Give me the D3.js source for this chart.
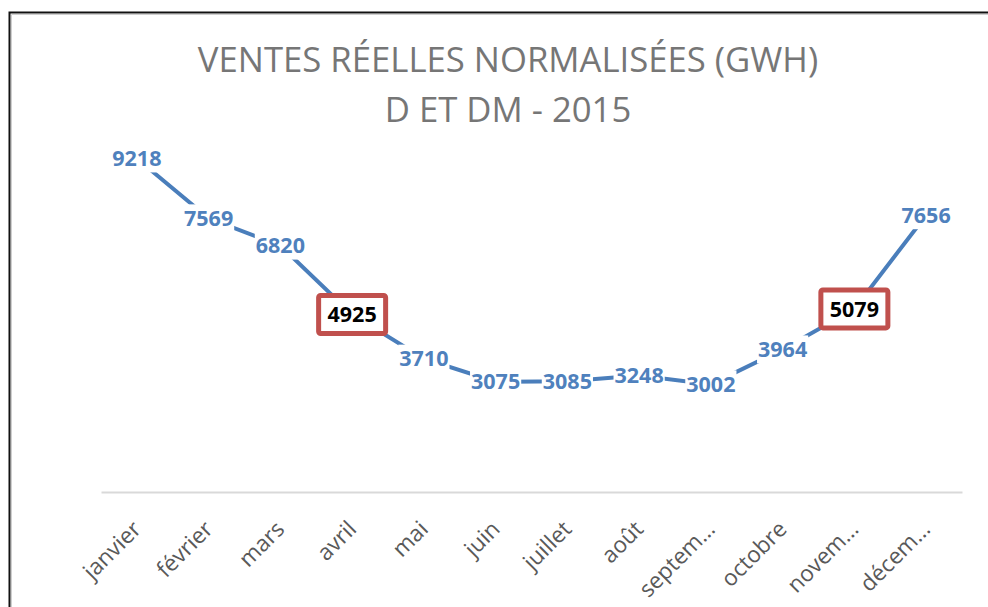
<!DOCTYPE html>
<html>
<head>
<meta charset="utf-8">
<script src="https://cdn.jsdelivr.net/npm/d3@7"></script>
<style>
  body { margin: 0; background: #fff; }
  svg { display: block; }
</style>
</head>
<body>
<svg></svg>
<script>
let width = 988, height = 607;

let svg = d3.select("svg")
    .attr("width", width)
    .attr("height", height)

// data
var months = ["janvier", "février", "mars", "avril", "mai", "juin", "juillet",
              "août", "septembre", "octobre", "novembre", "décembre"]
var tickLabels = ["janvier", "février", "mars", "avril", "mai", "juin", "juillet",
                  "août", "septem…", "octobre", "novem…", "décem…"]
var ventes = [9218, 7569, 6820, 4925, 3710, 3075, 3085, 3248, 3002, 3964, 5079, 7656]
var highlighted = ["avril", "novembre"]

var titleLines = ["VENTES RÉELLES NORMALISÉES (GWH)", "D ET DM - 2015"]

// frame round the chart
svg.append("path")
    .attr("d", "M9.5," + height + "V12.5H" + width)
    .attr("fill", "none")
    .attr("stroke", "#111")
    .attr("stroke-width", 2)
svg.append("path")
    .attr("d", "M11.5," + height + "V14.5H" + width)
    .attr("fill", "none")
    .attr("stroke", "#cfcfcf")
    .attr("stroke-width", 1)

// title
svg.append("g")
    .selectAll("text")
    .data(titleLines)
    .enter()
    .append("text")
    .attr("x", 508)
    .attr("y", (d, i) => 72 + i * 50)
    .attr("text-anchor", "middle")
    .attr("font-family", "'Open Sans', sans-serif")
    .attr("font-size", "34.7px")
    .attr("fill", "#767676")
    .text(d => d)

var x = d3.scaleBand()
    .domain(months)
    .range([101, 962])

var y = d3.scaleLinear()
    .domain([0, 10000])
    .range([493.5, 130])

let cx = d => x(d) + x.bandwidth() / 2

// category axis
let xAxis = svg.append("g")
    .attr("transform", "translate(0,492)")
    .call(d3.axisBottom(x).tickSize(0).tickSizeOuter(0)
        .tickFormat((d, i) => tickLabels[i]))

xAxis.select(".domain")
    .attr("stroke", "#d9d9d9")
    .attr("stroke-width", 2)

xAxis.selectAll("text")
    .attr("x", 0)
    .attr("y", 0)
    .attr("dy", "0.35em")
    .attr("transform", "translate(0,33) rotate(-45)")
    .style("text-anchor", "end")
    .attr("font-family", "'Open Sans', sans-serif")
    .attr("font-size", "22.5px")
    .attr("fill", "#595959")

// the line
let line = d3.line()
    .x((d, i) => cx(months[i]))
    .y(d => y(d))

svg.append("path")
    .datum(ventes)
    .attr("d", line)
    .attr("fill", "none")
    .attr("stroke", "#4a7ebb")
    .attr("stroke-width", 4)

// data labels, centred on the points
let labels = svg.append("g")
    .selectAll("g")
    .data(ventes)
    .enter()
    .append("g")
    .attr("transform", (d, i) => "translate(" + cx(months[i]) + "," + y(d) + ")")

labels.append("rect")
labels.append("text")
    .attr("text-anchor", "middle")
    .attr("dy", "0.36em")
    .attr("font-family", "'Open Sans', sans-serif")
    .attr("font-weight", "bold")
    .attr("font-size", "21.5px")
    .attr("fill", (d, i) => highlighted.includes(months[i]) ? "#000" : "#4f81bd")
    .text(d => d)

labels.each(function(d, i) {
    let g = d3.select(this)
    let box = g.select("text").node().getBBox()
    if (highlighted.includes(months[i])) {
        g.select("rect")
            .attr("x", -33.5)
            .attr("y", -19)
            .attr("width", 67)
            .attr("height", 38)
            .attr("rx", 2)
            .attr("fill", "#fff")
            .attr("stroke", "#c0504d")
            .attr("stroke-width", 5)
    } else {
        g.select("rect")
            .attr("x", box.x - 1)
            .attr("y", -14)
            .attr("width", box.width + 2)
            .attr("height", 28)
            .attr("fill", "#fff")
    }
})
</script>
</body>
</html>
